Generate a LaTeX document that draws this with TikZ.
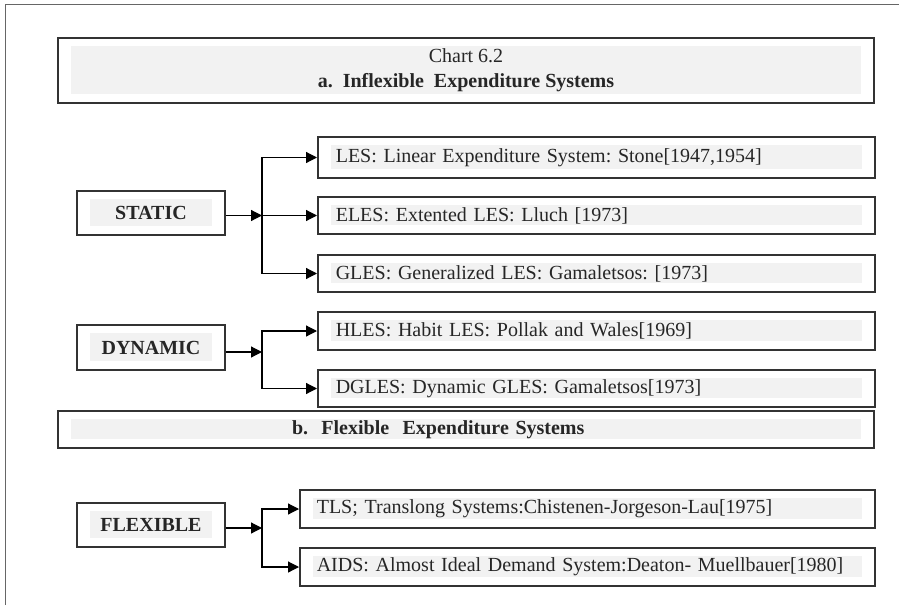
\documentclass[tikz,border=0pt]{standalone}
\usepackage{fontspec}
\setmainfont{Liberation Serif}
\frenchspacing
\usetikzlibrary{arrows.meta, positioning, calc}
\definecolor{borde}{HTML}{333333}
\definecolor{marcogris}{HTML}{666666}
\definecolor{sombra}{HTML}{F2F2F2}
\definecolor{texto}{HTML}{262626}
\tikzset{
  caja/.style={rectangle, draw=borde, line width=1.6pt, fill=white, text=texto,
               font=\fontsize{20pt}{25pt}\selectfont,
               path picture={\fill[sombra] ([xshift=13pt,yshift=-8pt]path picture bounding box.north west)
                  rectangle ([xshift=-13pt,yshift=9pt]path picture bounding box.south east);}},
  cabeza/.style={caja, minimum width=148pt, minimum height=44pt, inner sep=0pt,
                 font=\fontsize{20pt}{25pt}\selectfont\bfseries},
  rama/.style={caja, anchor=west, minimum height=38pt, inner xsep=18pt, inner ysep=0pt,
               text width=521pt, align=left},
  ramaancha/.style={rama, inner xsep=17pt, text width=541pt},
  arrow/.style={line width=1.2pt, -{Triangle[length=11pt,width=11pt]}, color=black},
  marco/.style={line width=1pt, color=marcogris}
}
\begin{document}
\begin{tikzpicture}[x=1pt, y=-1pt]
  \useasboundingbox (0,0) rectangle (899,605);
  \draw [marco] (5,605) -- (5,4) -- (899,4);
  % Encabezado
  \node (titulo) [caja, minimum width=816pt, minimum height=65pt, inner sep=0pt, align=center] at (466,70.5)
        {Chart 6.2\\ \textbf{a.\ \ Inflexible\ \ Expenditure Systems}};
  % Estaticos
  \node (static) [cabeza] at (151,213) {STATIC};
  \node (les) [rama, minimum height=41pt] at (317,157.5) {LES: Linear Expenditure System: Stone[1947,1954]};
  \node (eles) [rama, minimum height=37pt] at (317,215.5) {ELES: Extented LES: Lluch [1973]};
  \node (gles) [rama, minimum height=37pt] at (317,273.5) {GLES: Generalized LES: Gamaletsos: [1973]};
  \coordinate (sj) at (262,215.5);
  \draw [arrow] (static.east |- sj) -- (sj);
  \draw [arrow] (sj) |- (les.west);
  \draw [arrow] (sj) -- (eles.west);
  \draw [arrow] (sj) |- (gles.west);
  % Dinamicos
  \node (dynamic) [cabeza, minimum height=45pt] at (151,347.5) {DYNAMIC};
  \node (hles) [rama] at (317,331) {HLES: Habit LES: Pollak and Wales[1969]};
  \node (dgles) [rama, minimum height=37pt] at (317,388.5) {DGLES: Dynamic GLES: Gamaletsos[1973]};
  \coordinate (dj) at (262,352);
  \draw [arrow] (dynamic.east |- dj) -- (dj);
  \draw [arrow] (dj) |- (hles.west);
  \draw [arrow] (dj) |- (dgles.west);
  % Flexibles
  \node (titulob) [caja, minimum width=816pt, minimum height=37pt, inner xsep=234pt, inner ysep=0pt,
        text width=348pt, align=left, font=\fontsize{20pt}{25pt}\selectfont\bfseries] at (466,429.5)
        {b.\ \ Flexible\ \ Expenditure Systems};
  \node (flexible) [cabeza] at (151,525) {FLEXIBLE};
  \node (tls) [ramaancha] at (299,509) {TLS; Translong Systems:Chistenen-Jorgeson-Lau[1975]};
  \node (aids) [ramaancha] at (299,567) {AIDS: Almost Ideal Demand System:Deaton- Muellbauer[1980]};
  \coordinate (fj) at (262,528);
  \draw [arrow] (flexible.east |- fj) -- (fj);
  \draw [arrow] (fj) |- (tls.west);
  \draw [arrow] (fj) |- (aids.west);
\end{tikzpicture}
\end{document}
